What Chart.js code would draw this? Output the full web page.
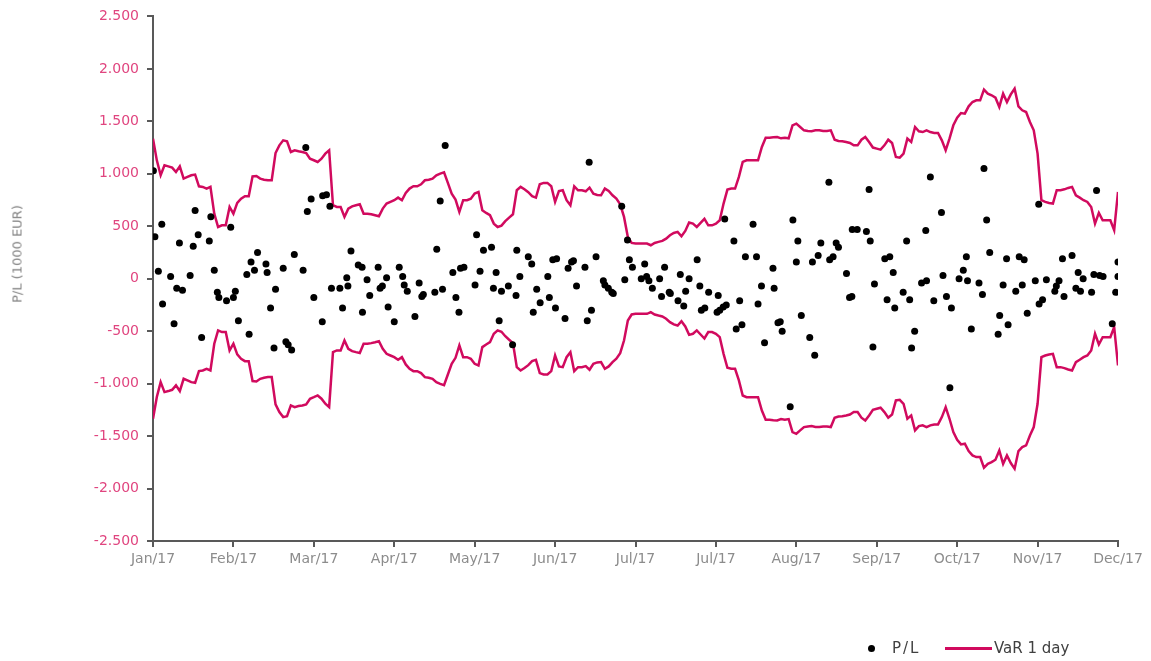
<!DOCTYPE html>
<html>
<head>
<meta charset="utf-8">
<script src="https://cdn.jsdelivr.net/npm/chart.js@4.4.1/dist/chart.umd.min.js"></script>
<style>
  body { margin: 0; background: #fff; }
  #wrap { position: relative; width: 1151px; height: 661px; font-family: "DejaVu Sans", sans-serif; }
  #chart { position: absolute; left: 0; top: 0; }
  .ytitle { position: absolute; left: 17px; top: 254px; transform: translate(-50%, -50%) rotate(-90deg);
            white-space: nowrap; font-size: 13px; color: #808080; }
  .leg { position: absolute; font-size: 15px; color: #404040; line-height: 20px; }
  .dot { position: absolute; left: 868px; top: 645px; width: 7px; height: 7px; border-radius: 50%; background: #000; }
  .line { position: absolute; left: 945px; top: 647px; width: 47px; height: 3px; background: #d10a5e; }
</style>
</head>
<body>
<div id="wrap">
  <canvas id="chart" width="1151" height="661"></canvas>
  <div class="ytitle">P/L (1000 EUR)</div>
  <span class="dot"></span>
  <span class="leg" style="left:892px;top:638px;letter-spacing:2px">P/L</span>
  <span class="line"></span>
  <span class="leg" style="left:994px;top:638px">VaR 1 day</span>
</div>
<script>
'use strict';

// x tick labels, one every 21 trading days
const monthTicks = ['Jan/17', 'Feb/17', 'Mar/17', 'Apr/17', 'May/17', 'Jun/17', 'Jul/17',
  'Jul/17', 'Aug/17', 'Sep/17', 'Oct/17', 'Nov/17', 'Dec/17'];

// VaR 1 day per trading day (drawn as +VaR and -VaR)
const varDay = [
  1335, 1128, 986, 1081, 1071, 1059, 1017, 1071, 954, 970,
  986, 992, 881, 875, 859, 875, 620, 493, 509, 509,
  684, 620, 722, 763, 786, 786, 976, 979, 954, 944,
  938, 938, 1198, 1271, 1319, 1310, 1208, 1224, 1214, 1208,
  1198, 1144, 1129, 1113, 1144, 1192, 1224, 700, 684, 684,
  589, 668, 690, 700, 709, 620, 620, 614, 605, 595,
  668, 716, 732, 748, 773, 748, 817, 859, 881, 881,
  900, 938, 944, 954, 986, 1002, 1014, 913, 811, 754,
  636, 748, 748, 763, 811, 827, 652, 627, 605, 525,
  493, 506, 548, 582, 614, 843, 875, 852, 824, 786,
  773, 900, 913, 913, 881, 732, 836, 843, 748, 700,
  881, 843, 843, 833, 868, 811, 798, 795, 859, 836,
  795, 763, 709, 589, 398, 341, 335, 335, 335, 335,
  319, 341, 351, 360, 382, 414, 436, 446, 405, 455,
  535, 525, 493, 532, 570, 509, 509, 525, 557, 716,
  849, 859, 859, 970, 1113, 1129, 1129, 1129, 1129, 1256,
  1344, 1344, 1348, 1351, 1338, 1344, 1338, 1462, 1478, 1446,
  1414, 1408, 1405, 1414, 1414, 1408, 1408, 1414, 1325, 1313,
  1310, 1303, 1294, 1271, 1271, 1325, 1351, 1303, 1250, 1240,
  1230, 1271, 1325, 1294, 1160, 1154, 1192, 1335, 1303, 1446,
  1405, 1398, 1414, 1398, 1389, 1389, 1319, 1224, 1335, 1462,
  1535, 1579, 1573, 1643, 1684, 1700, 1700, 1802, 1764, 1748,
  1725, 1637, 1764, 1684, 1757, 1811, 1643, 1605, 1589, 1494,
  1414, 1192, 748, 732, 722, 716, 843, 843, 852, 865,
  875, 795, 773, 748, 732, 684, 525, 627, 557, 557,
  557, 462, 827
];

// P/L dots: trading day position and value (1000 EUR)
const plDay = [
  0.1, 0.5, 1.4, 2.3, 2.5, 4.6, 5.5, 6.2, 6.9, 7.7, 9.7, 10.5, 11.0, 11.8, 12.7, 14.7, 15.1, 16.0, 16.8, 17.2,
  19.2, 20.3, 21.0, 21.5, 22.3, 24.5, 25.1, 25.6, 26.5, 27.3, 29.5, 29.8, 30.7, 31.6, 32.0, 34.0, 34.7, 35.3, 36.2, 36.9,
  39.2, 39.9, 40.3, 41.3, 42.0, 44.2, 44.3, 45.3, 46.2, 46.6, 48.8, 49.5, 50.6, 50.9, 51.7, 53.6, 54.6, 54.7, 55.9, 56.6,
  58.8, 59.3, 59.9, 61.0, 61.4, 63.0,
  64.3, 65.2, 65.6, 66.4, 68.4, 69.5, 70.2, 70.6, 73.6, 74.1, 75.0, 75.6, 76.3, 78.3, 79.1, 79.9, 80.3, 81.2, 84.1, 84.5,
  85.4, 86.3, 88.4, 88.9, 89.6, 90.4, 91.0, 92.8, 93.9, 94.8, 95.0, 95.8, 98.0, 98.9, 99.3, 100.2, 101.1, 103.1, 103.5, 104.4,
  105.1, 105.4, 107.6, 108.4, 109.3, 109.8, 110.6, 112.8, 113.4, 113.9, 114.5, 115.7, 117.6, 118.0, 118.9, 119.8, 120.2, 122.4, 123.2, 123.9,
  124.4, 125.2,
  127.5, 128.4, 128.9, 129.5, 130.4, 132.3, 132.8, 133.6, 134.8, 135.1, 137.1, 137.7, 138.6, 139.1, 140.0, 142.1, 142.8, 143.2, 144.1, 145.1,
  147.3, 147.6, 148.0, 148.9, 149.3, 149.7, 151.7, 152.3, 153.2, 153.8, 154.7, 156.7, 157.6, 158.0, 158.9, 159.7, 161.9, 162.2, 163.2, 163.8,
  164.3, 166.4, 167.1, 168.0, 168.4, 169.3, 171.5, 172.2, 172.8, 173.7, 174.4, 176.5, 176.7, 177.6, 178.4, 179.0, 181.1, 181.9, 182.5, 182.6,
  183.9, 186.3, 187.0, 187.3, 188.0, 188.4,
  191.1, 191.7, 192.4, 193.3, 193.7, 195.9, 196.8, 197.6, 198.1, 198.9, 200.7, 201.8, 202.0, 203.0, 203.9, 205.9, 206.3, 207.2, 208.1, 208.5,
  210.5, 211.6, 212.4, 212.7, 213.7, 215.7, 216.6, 217.0, 217.7, 218.5, 220.7, 221.1, 222.0, 222.9, 223.3, 225.3, 226.2, 227.0, 227.5, 228.3,
  230.4, 231.3, 231.4, 232.3, 233.3, 235.5, 235.9, 236.6, 237.5, 237.9, 240.0, 241.0, 241.6, 242.2, 242.9, 245.1, 245.7, 246.4, 247.2, 248.1,
  250.5, 251.4, 252.0, 252.0
];
const plValue = [
  1030, 400, 70, 520, -240, 20, -430, -90, 340, -110, 30, 310, 650, 420, -560, 360, 590, 80, -130, -180,
  -210, 490, -180, -120, -400, 40, -530, 160, 80, 250, 140, 60, -280, -660, -100, 100, -600, -630, -680, 230,
  80, 1250, 640, 760, -180, -410, 790, 800, 690, -90, -90, -280, 10, -70, 265, 130, 110, -320, -10, -160,
  110, -90, -70, 10, -270, -410,
  110, 20, -60, -120, -360, -40, -170, -150, -130, 280, 740, -100, 1270, 60, -180, -320, 100, 110, -60, 420,
  70, 270, 300, -90, 60, -400, -120, -70, -630, -160, 270, 20, 210, 140, -320, -100, -230, 20, -180, 180,
  -280, 190, -380, 100, 160, 170, -70, 110, -400, 1110, -300, 210, -20, -60, -90, -130, -140, 690, -10, 370,
  180, 110,
  0, 140, 20, -20, -90, 0, -170, 110, -130, -140, -210, 40, -260, -120, 0, 180, -70, -300, -280, -130,
  -320, -160, -300, -270, 570, -250, 360, -480, -210, -440, 210, 520, 210, -240, -70, -610, 100, -90, -420, -410,
  -500, -1220, 560, 160, 360, -350, -560, 160, -730, 220, 340, 920, 180, 210, 340, 300, 50, -180, -170, 470,
  470, 450, 850, 360, -650, -50,
  190, -200, 210, 60, -280, -130, 360, -200, -660, -500, -40, 460, -20, 970, -210, 630, 30, -170, -1040, -280,
  0, 80, 210, -20, -480, -40, -150, 1050, 560, 250, -530, -350, -60, 190, -440, -120, 210, -60, 180, -330,
  -20, 710, -240, -200, -10, -120, -70, -20, 190, -170, 220, -90, 60, -120, 0, -130, 40, 840, 30, 20,
  -430, -130, 20, 160
];

const pink = '#d10a5e';
const axisGrey = '#595959';

const fmt = v => (v < 0 ? '-' : '') + Math.abs(v).toString().replace(/\B(?=(\d{3})+(?!\d))/g, '.');

const plPoints = plDay.map((d, i) => ({ x: d, y: plValue[i] }));
const varUp = varDay.map((v, i) => ({ x: i, y: v }));
const varDown = varDay.map((v, i) => ({ x: i, y: -v }));

new Chart(document.getElementById('chart'), {
  type: 'scatter',
  data: {
    datasets: [
      {
        label: 'P/L',
        data: plPoints,
        backgroundColor: '#000',
        borderWidth: 0,
        pointRadius: 3.5,
        order: 0
      },
      {
        label: 'VaR 1 day',
        data: varUp,
        showLine: true,
        borderColor: pink,
        borderWidth: 2.5,
        pointRadius: 0,
        tension: 0,
        order: 1
      },
      {
        label: 'VaR 1 day (low)',
        data: varDown,
        showLine: true,
        borderColor: pink,
        borderWidth: 2.5,
        pointRadius: 0,
        tension: 0,
        order: 1
      }
    ]
  },
  options: {
    responsive: false,
    animation: false,
    events: [],
    layout: { padding: { top: 16, right: 33, bottom: 90, left: 0 } },
    plugins: { legend: { display: false }, tooltip: { enabled: false } },
    scales: {
      x: {
        type: 'linear',
        min: 0,
        max: 252,
        afterBuildTicks: s => { s.ticks = monthTicks.map((m, i) => ({ value: i * 21 })); },
        afterFit: s => { s.height = 30; },
        ticks: {
          autoSkip: false,
          maxRotation: 0,
          padding: 4,
          color: '#8c8c8c',
          font: { family: 'DejaVu Sans', size: 14 },
          callback: (v) => monthTicks[Math.round(v / 21)]
        },
        grid: { drawOnChartArea: false, drawTicks: true, tickLength: 6, color: axisGrey, lineWidth: 2 },
        border: { color: axisGrey, width: 2 }
      },
      y: {
        min: -2500,
        max: 2500,
        afterFit: s => { s.width = 153; },
        ticks: {
          stepSize: 500,
          padding: 8,
          color: '#e0457f',
          font: { family: 'DejaVu Sans', size: 14 },
          callback: v => fmt(v)
        },
        grid: { drawOnChartArea: false, drawTicks: true, tickLength: 6, color: axisGrey, lineWidth: 2 },
        border: { color: axisGrey, width: 2 }
      }
    }
  }
});
</script>
</body>
</html>
